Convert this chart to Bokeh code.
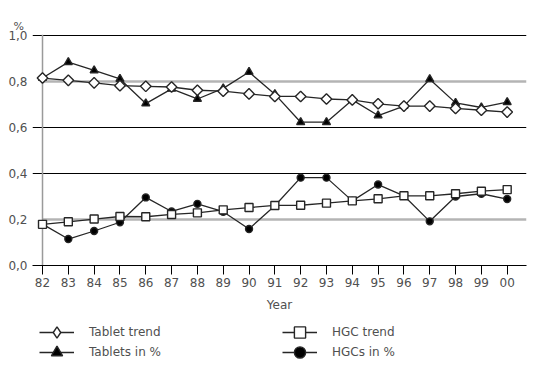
import math
from bokeh.plotting import figure
from bokeh.layouts import column
from bokeh.models import (FixedTicker, Legend, LegendItem, Span, Range1d, Title)
from bokeh.embed import file_html
from bokeh.resources import INLINE

years = list(range(1982, 2001))
year_labels = ["82", "83", "84", "85", "86", "87", "88", "89", "90", "91",
               "92", "93", "94", "95", "96", "97", "98", "99", "00"]
tablet_trend = [0.815, 0.805, 0.794, 0.782, 0.779, 0.776, 0.762, 0.758, 0.746, 0.735,
                0.735, 0.724, 0.720, 0.703, 0.693, 0.693, 0.683, 0.675, 0.667]
tablets_pct = [0.815, 0.884, 0.848, 0.811, 0.704, 0.768, 0.724, 0.770, 0.841, 0.745,
               0.623, 0.623, 0.720, 0.652, 0.693, 0.810, 0.707, 0.687, 0.710]
hgc_trend = [0.179, 0.190, 0.202, 0.213, 0.212, 0.222, 0.229, 0.242, 0.252, 0.261,
             0.262, 0.271, 0.281, 0.290, 0.303, 0.303, 0.312, 0.323, 0.330]
hgcs_pct = [0.180, 0.115, 0.150, 0.188, 0.296, 0.235, 0.268, 0.234, 0.159, 0.260,
            0.382, 0.382, 0.281, 0.352, 0.303, 0.192, 0.300, 0.312, 0.289]
y_ticks = [0.0, 0.2, 0.4, 0.6, 0.8, 1.0]
y_labels = ["0,0", "0,2", "0,4", "0,6", "0,8", "1,0"]
black_lines = [0.4, 0.6, 1.0]
gray_lines = [0.2, 0.8]

FONT = "DejaVu Sans"
TXT = "#505050"
LC = "#262626"

x_start = years[0] - 10 / 25.8
x_end = years[-1] + 19.3 / 25.8
y_end = 1.0 + 1 / 231

p = figure(width=531, height=314, output_backend="svg", toolbar_location=None,
           x_range=Range1d(x_start, x_end), y_range=Range1d(0, y_end),
           min_border_left=32, min_border_right=5, min_border_top=33,
           min_border_bottom=49)
p.outline_line_color = None
p.background_fill_color = None
p.border_fill_color = None

# spacer title next to the frame, "%" title above it
p.title = Title(text=" ", text_font=FONT, text_font_size="10px", standoff=2)
p.add_layout(Title(text="%", align="left", offset=-19, text_font=FONT,
                   text_font_size="11px", text_color=TXT,
                   text_font_style="normal", standoff=4), "above")

# reference lines
p.xgrid.visible = False
p.ygrid.ticker = FixedTicker(ticks=black_lines)
p.ygrid.grid_line_color = "black"
p.ygrid.grid_line_width = 1
p.segment(x0=years[0], x1=x_end, y0=gray_lines, y1=gray_lines,
          line_color="#b4b4b4", line_width=2.5, level="underlay")
vspan = Span(location=years[0], dimension="height", line_color="#9a9a9a",
             line_width=1.5, level="underlay")
p.add_layout(vspan)

# x axis
xa = p.xaxis[0]
xa.ticker = FixedTicker(ticks=years)
xa.major_label_overrides = {y: l for y, l in zip(years, year_labels)}
xa.axis_line_color = "black"
xa.axis_line_width = 1
xa.major_tick_line_color = "black"
xa.major_tick_out = 9
xa.major_tick_in = 0
xa.minor_tick_line_color = None
xa.major_label_text_font = FONT
xa.major_label_text_font_size = "12px"
xa.major_label_text_color = TXT
xa.major_label_standoff = 3
xa.axis_label = "Year"
xa.axis_label_text_font = FONT
xa.axis_label_text_font_size = "12px"
xa.axis_label_text_font_style = "normal"
xa.axis_label_text_color = TXT
xa.axis_label_standoff = 8

# y axis
ya = p.yaxis[0]
ya.ticker = FixedTicker(ticks=y_ticks)
ya.major_label_overrides = {t: l for t, l in zip(y_ticks, y_labels)}
ya.axis_line_color = None
ya.major_tick_line_color = None
ya.major_tick_out = 0
ya.major_tick_in = 0
ya.minor_tick_line_color = None
ya.major_label_standoff = 5
ya.major_label_text_font = FONT
ya.major_label_text_font_size = "12px"
ya.major_label_text_color = TXT

STYLES = [
    # (values, marker, size, angle, fill)
    (tablets_pct, "triangle", 8, 0, "black"),
    (hgcs_pct, "circle", 7, 0, "black"),
    (tablet_trend, "square", 7.5, math.pi / 4, "white"),
    (hgc_trend, "square", 8, 0, "white"),
]


def draw(fig, vals, marker, size, angle, fill):
    ln = fig.line(years, vals, line_color=LC, line_width=1.3)
    sc = fig.scatter(years, vals, marker=marker, size=size, angle=angle,
                     fill_color=fill, line_color=LC, line_width=1.4)
    return ln, sc


for st in STYLES:
    draw(p, *st)

# legend figure (its renderers lie outside its visible range; only the legend shows)
lf = figure(width=531, height=52, output_backend="svg", toolbar_location=None,
            x_range=Range1d(0, 1), y_range=Range1d(0, 1),
            x_axis_location=None, y_axis_location=None, min_border=0)
lf.outline_line_color = None
lf.grid.visible = False
lf.background_fill_color = None
lf.border_fill_color = None
r_tab_pct = draw(lf, *STYLES[0])
r_hgc_pct = draw(lf, *STYLES[1])
r_tab_tr = draw(lf, tablet_trend, "diamond", 7.5, 0, "white")
r_hgc_tr = draw(lf, *STYLES[3])

common = dict(orientation="horizontal", glyph_width=35, glyph_height=28,
              label_height=14, label_width=193, label_standoff=15, spacing=0,
              padding=0, margin=0, border_line_color=None, background_fill_alpha=0,
              label_text_font=FONT, label_text_font_size="12px",
              label_text_color=TXT)
leg1 = Legend(items=[LegendItem(label="Tablet trend", renderers=list(r_tab_tr)),
                     LegendItem(label="HGC trend", renderers=list(r_hgc_tr))],
              location=(7, 20), **common)
leg2 = Legend(items=[LegendItem(label="Tablets in %", renderers=list(r_tab_pct)),
                     LegendItem(label="HGCs in %", renderers=list(r_hgc_pct))],
              location=(7, 0), **common)
lf.add_layout(leg1)
lf.add_layout(leg2)

layout = column(p, lf, spacing=0)
open("out.html", "w").write(file_html(layout, INLINE))
